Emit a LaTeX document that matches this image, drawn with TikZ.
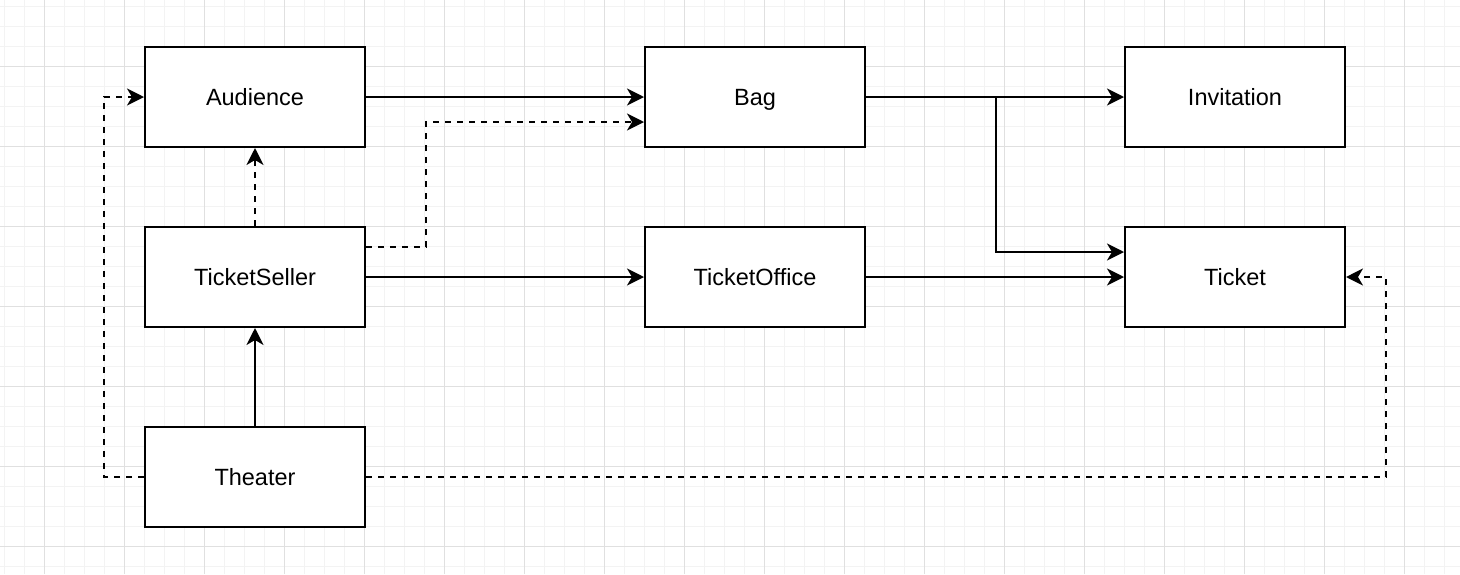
\documentclass[tikz,border=0pt]{standalone}
\usepackage{fontspec}
\setmainfont{Liberation Sans}
\usetikzlibrary{arrows.meta}
\definecolor{gridminor}{HTML}{F3F3F3}
\definecolor{gridmajor}{HTML}{E0E0E0}
\tikzset{
  box/.style={draw=black, line width=2pt, fill=white, minimum width=220pt, minimum height=100pt, inner sep=0pt, text height=17pt, text depth=0pt, font=\fontsize{23.5}{28}\selectfont},
  conn/.style={line width=2pt, -{Stealth[length=17pt, width=17pt, inset=5pt]}},
  dconn/.style={conn, dash pattern=on 6pt off 6pt},
  minorline/.style={gridminor, line width=1pt},
  majorline/.style={gridmajor, line width=1pt}
}
\begin{document}
\begin{tikzpicture}[x=1pt, y=-1pt]
\useasboundingbox (0,0) rectangle (1460,574);
\fill[white] (0,0) rectangle (1460,574);
\foreach \k in {0,...,72} \draw[minorline] (4.7+20*\k,0) -- (4.7+20*\k,574);
\foreach \k in {0,...,28} \draw[minorline] (0,6+20*\k) -- (1460,6+20*\k);
\foreach \k in {0,...,17} \draw[majorline] (44.7+80*\k,0) -- (44.7+80*\k,574);
\foreach \k in {0,...,6} \draw[majorline] (0,66+80*\k) -- (1460,66+80*\k);

\node[box] (aud) at (255,97) {Audience};
\node[box] (bag) at (755,97) {Bag};
\node[box] (inv) at (1235,97) {Invitation};
\node[box] (ts) at (255,277) {TicketSeller};
\node[box] (to) at (755,277) {TicketOffice};
\node[box] (tic) at (1235,277) {Ticket};
\node[box] (th) at (255,477) {Theater};

\draw[conn] (aud) -- (bag);
\draw[conn] (bag) -- (inv);
\draw[conn] (bag.east) -- ++(130,0) |- ([yshift=25pt]tic.west);
\draw[conn] (ts) -- (to);
\draw[conn] (to) -- (tic);
\draw[conn] (th) -- (ts);
\draw[dconn] (ts) -- (aud);
\draw[dconn] ([yshift=30pt]ts.east) -- ++(60,0) |- ([yshift=-25pt]bag.west);
\draw[dconn] (th.west) -- ++(-40,0) |- (aud.west);
\draw[dconn] (th.east) -- ++(1020,0) |- (tic.east);
\end{tikzpicture}
\end{document}
